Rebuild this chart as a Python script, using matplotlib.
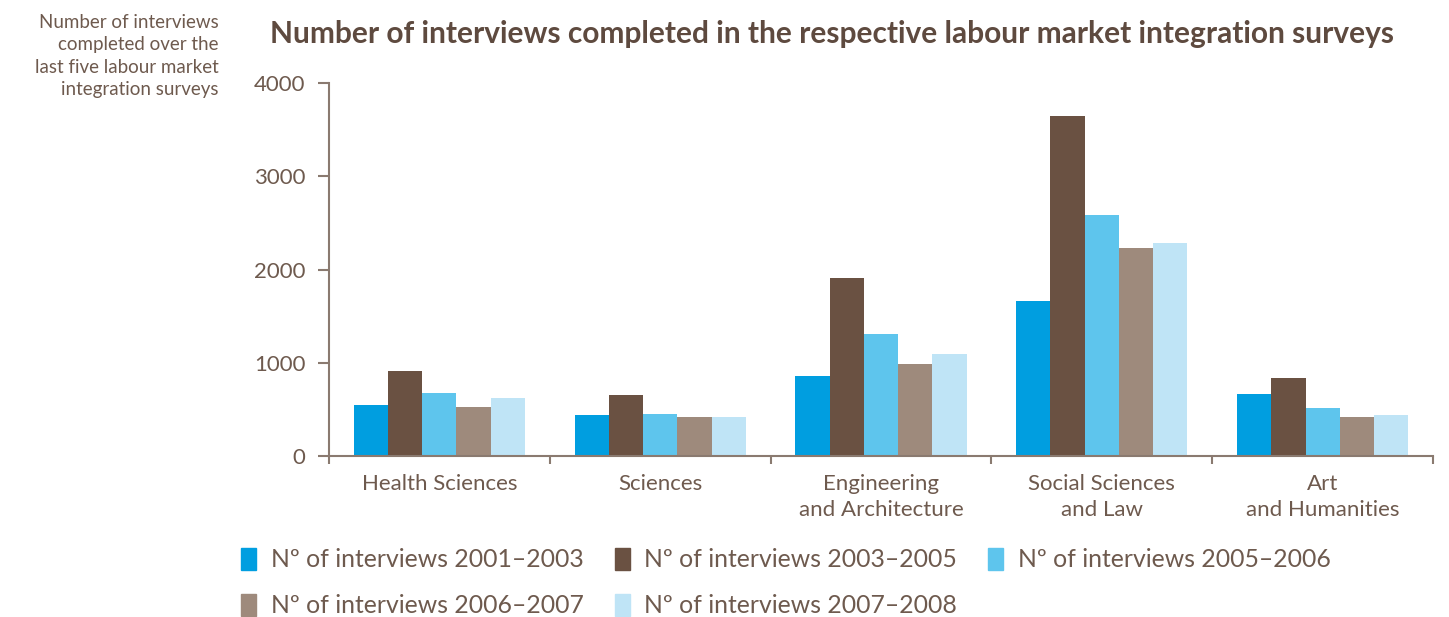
import matplotlib
matplotlib.use('Agg')
import matplotlib.pyplot as plt
import numpy as np
from matplotlib.patches import Patch

plt.rcParams['font.family'] = ['Lato', 'DejaVu Sans']

categories = ['Health Sciences', 'Sciences', 'Engineering\nand Architecture',
              'Social Sciences\nand Law', 'Art\nand Humanities']
series_names = ['Nº of interviews 2001–2003', 'Nº of interviews 2003–2005',
                'Nº of interviews 2005–2006', 'Nº of interviews 2006–2007',
                'Nº of interviews 2007–2008']
s2001 = [547, 440, 858, 1662, 665]
s2003 = [911, 654, 1909, 3650, 836]
s2005 = [676, 450, 1308, 2584, 515]
s2006 = [525, 418, 987, 2231, 418]
s2007 = [622, 418, 1094, 2284, 440]
yticks = [0, 1000, 2000, 3000, 4000]

colors = ['#009ee0', '#6a5142', '#5ec5ed', '#9e8a7c', '#bfe4f6']
txt = '#6e5a4e'
axc = '#8a7a70'

fig = plt.figure(figsize=(14.49, 6.17), dpi=100)
ax = fig.add_axes([0.227, 0.261, 0.762, 0.604])

x = np.arange(len(categories))
w = 0.155
allser = [s2001, s2003, s2005, s2006, s2007]
for i, (vals, col) in enumerate(zip(allser, colors)):
    ax.bar(x + (i - 2) * w, vals, w, color=col, linewidth=0)

ax.set_xlim(-0.5, 4.5)
ax.set_ylim(0, 4000)
ax.set_yticks(yticks)
ax.set_yticklabels([str(t) for t in yticks], fontsize=16, color=txt)
ax.set_xticks(np.arange(-0.5, 5, 1))
ax.set_xticklabels([])
ax.set_xticks(x, minor=True)
ax.set_xticklabels(categories, minor=True, fontsize=16, color=txt, linespacing=1.4)
ax.tick_params(axis='x', which='minor', length=0, pad=13)
ax.tick_params(axis='x', which='major', length=6, width=1.5, color=axc, direction='out')
ax.tick_params(axis='y', length=8, width=1.5, color=axc, pad=9)
for s in ['top', 'right']:
    ax.spines[s].set_visible(False)
for s in ['left', 'bottom']:
    ax.spines[s].set_color(axc)
    ax.spines[s].set_linewidth(1.5)

fig.text(0.5745, 0.945, 'Number of interviews completed in the respective labour market integration surveys',
         ha='center', va='center', fontsize=21.5, fontweight='bold', color='#5e4a3f')
fig.text(0.151, 0.978, 'Number of interviews\ncompleted over the\nlast five labour market\nintegration surveys',
         ha='right', va='top', fontsize=13.5, color=txt, linespacing=1.4)

handles = [Patch(color=c) for c in colors]
order = [0, 3, 1, 4, 2]
fig.legend([handles[k] for k in order], [series_names[k] for k in order],
           ncol=3, loc='upper left', bbox_to_anchor=(0.158, 0.132), frameon=False,
           fontsize=17.8, labelcolor=txt, handlelength=0.6, handleheight=1.0,
           handletextpad=0.6, columnspacing=1.25, labelspacing=0.9, borderpad=0)

fig.savefig('out.png', dpi=100)
